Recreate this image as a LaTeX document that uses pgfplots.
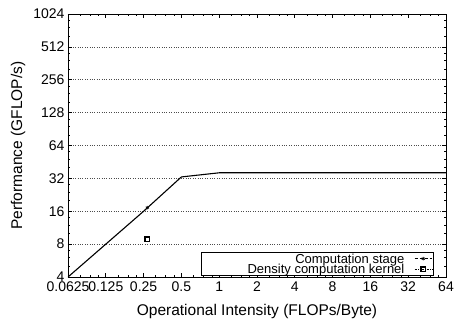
\documentclass[border=0pt]{standalone}
\usepackage{fontspec}
\setmainfont{Liberation Sans}
\usepackage{pgfplots}
\pgfplotsset{compat=1.18}
\begin{document}
\begin{tikzpicture}
\begin{axis}[
  scale only axis,
  width=378pt, height=263pt,
  xmode=log, ymode=log, log basis x=2, log basis y=2,
  xmin=0.0625, xmax=64, ymin=4, ymax=1024,
  xtick={0.0625,0.125,0.25,0.5,1,2,4,8,16,32,64},
  xticklabels={0.0625,0.125,0.25,0.5,1,2,4,8,16,32,64},
  ytick={4,8,16,32,64,128,256,512,1024},
  yticklabels={4,8,16,32,64,128,256,512,1024},
  extra x ticks={0.078125,0.09375,0.109375,0.15625,0.1875,0.21875,0.3125,0.375,0.4375,0.625,0.75,0.875,1.25,1.5,1.75,2.5,3,3.5,5,6,7,10,12,14,20,24,28,40,48,56},
  extra y ticks={5,6,7,10,12,14,20,24,28,40,48,56,80,96,112,160,192,224,320,384,448,640,768,896},
  extra x tick labels={}, extra y tick labels={},
  extra x tick style={major tick length=2pt, xmajorgrids=false},
  extra y tick style={major tick length=2pt, ymajorgrids=false},
  tick align=inside,
  major tick length=4pt,
  every tick/.style={black, line width=0.7pt},
  ymajorgrids, major grid style={black!70, dotted, line width=0.7pt},
  axis line style={line width=0.9pt},
  font=\fontsize{14}{16}\selectfont,
  tick label style={font=\fontsize{14}{16}\selectfont},
  xticklabel style={yshift=-1.5pt},
  /pgf/number format/assume math mode=true,
  xlabel={Operational Intensity (FLOPs/Byte)},
  ylabel={Performance (GFLOP/s)},
  label style={font=\fontsize{15.5}{17}\selectfont},
  xlabel style={yshift=-5pt},
  ylabel style={yshift=1pt},
  legend plot pos=right,
  legend cell align=right,
  legend style={at={(rel axis cs:1,0)}, anchor=south east, xshift=-12pt, yshift=1.5pt,
    font=\fontsize{13}{13}\selectfont, row sep=1.5pt, inner sep=1.5pt,
    nodes={text height=9pt, text depth=0pt, inner sep=0pt},
    draw=black, line width=0.7pt, fill=white},
]
\coordinate (ll) at (rel axis cs:0,0);
\coordinate (ur) at (rel axis cs:1,1);
\addplot[black, line width=1.1pt, forget plot] coordinates {
 (0.0625,4) (0.125,8) (0.25,16) (0.5,33) (1,36) (2,36) (4,36) (8,36) (16,36) (32,36) (64,36)};
\addplot[black, densely dashed, line width=0.7pt, mark=asterisk, mark size=1.8pt, mark options={solid}] coordinates {(0.268,17.3)};
\addlegendentry{\makebox[212pt][r]{Computation stage\hspace{10pt}}}
\addplot[black, densely dotted, line width=0.7pt, mark=square, mark size=2.2pt, mark options={solid, line width=1.6pt}] coordinates {(0.268,8.85)};
\addlegendentry{\makebox[212pt][r]{Density computation kernel\hspace{10pt}}}
\end{axis}
\pgfresetboundingbox
\path[use as bounding box] ([xshift=-68pt,yshift=-50pt]ll) rectangle ([xshift=10pt,yshift=14pt]ur);
\end{tikzpicture}
\end{document}
